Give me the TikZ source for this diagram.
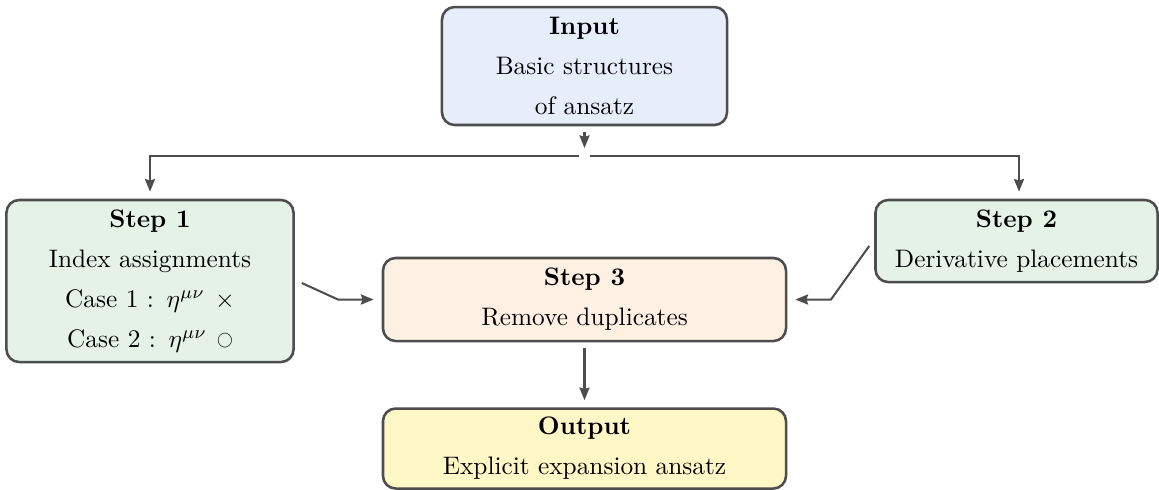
\documentclass[tikz,border=0pt]{standalone}
\usetikzlibrary{arrows.meta,calc}
\usepackage{graphicx}
\definecolor{bord}{HTML}{4D4D4D}
\definecolor{inputc}{HTML}{E7EEFB}
\definecolor{stepc}{HTML}{E4F2E7}
\definecolor{dupc}{HTML}{FEF1E3}
\definecolor{outc}{HTML}{FFF8C6}
\begin{document}
\begin{tikzpicture}[x=0.395pt,y=-0.395pt,
  box/.style={draw=bord, line width=1pt, rounded corners=5pt, align=center, inner sep=0pt},
  arr/.style={draw=bord, line width=0.8pt, -{Stealth[length=5pt,width=4pt,inset=0.6pt]}}]
\useasboundingbox (0,0) rectangle (1159,489);
\node[box, fill=inputc, minimum width=112.6pt, minimum height=46.6pt] (in) at (584.5,66)
  {\textbf{Input}\\[3.8pt] Basic structures\\[3.8pt] of ansatz};
\node[box, fill=stepc, minimum width=113.4pt, minimum height=64pt] (s1) at (150,281)
  {\textbf{Step 1}\\[3.8pt] Index assignments\\[3.8pt]
   Case 1 :\hspace{5pt}$\eta^{\mu\nu}$\hspace{4pt}$\times$\\[3.8pt]
   Case 2 :\hspace{5pt}$\eta^{\mu\nu}$\hspace{4pt}$\vcenter{\hbox{\scalebox{0.62}{$\bigcirc$}}}$};
\node[box, fill=stepc, minimum width=111.4pt, minimum height=32.4pt] (s2) at (1016.5,241)
  {\textbf{Step 2}\\[3.8pt] Derivative placements};
\node[box, fill=dupc, minimum width=159.2pt, minimum height=32.8pt] (s3) at (584.5,299.5)
  {\textbf{Step 3}\\[3.8pt] Remove duplicates};
\node[box, fill=outc, minimum width=159.2pt, minimum height=31.6pt] (out) at (584.5,448.5)
  {\textbf{Output}\\[3.8pt] Explicit expansion ansatz};
\coordinate (split) at (584.5,148);
\coordinate (gl) at (579,155.5);
\coordinate (gr) at (590,155.5);
\coordinate (b1) at (338,299.5);
\coordinate (b2) at (831,299.5);
\draw[arr, shorten <=2.4pt] (in.south) -- (split);
\draw[arr, shorten >=2.8pt] (gl) -| (s1.north);
\draw[arr, shorten >=2.8pt] (gr) -| ($(s2.north)+(2.5,0)$);
\draw[arr, shorten >=3.2pt] ($(s1.east)+(7,2)$) -- (b1) -- (s3.west);
\draw[arr, shorten >=3.2pt] ($(s2.west)+(-5,5)$) -- (b2) -- (s3.east);
\draw[arr, shorten <=2.4pt, shorten >=2.8pt] (s3.south) -- (out.north);
\end{tikzpicture}
\end{document}
